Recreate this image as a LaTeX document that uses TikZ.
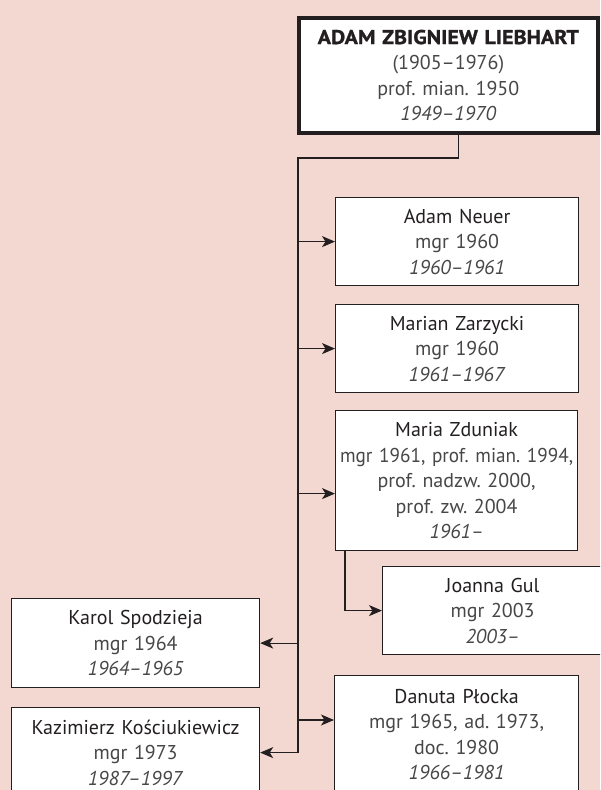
\documentclass[tikz,border=0pt]{standalone}
\usepackage{fontspec}
\setmainfont{PT Sans}
\usetikzlibrary{arrows.meta,positioning}
\definecolor{bgpink}{RGB}{242,216,208}
\definecolor{ink}{RGB}{35,31,32}
\definecolor{txt}{RGB}{72,70,70}
\frenchspacing

\begin{document}
\begin{tikzpicture}
    [x=1pt,y=-1pt,
    box/.style={draw=ink,fill=white,line width=1.2pt,anchor=north west,
      inner sep=0pt,align=center,text=txt,font=\fontsize{20}{25.5}\selectfont},
    head/.style={box,line width=3.6pt},
    link/.style={draw=ink,line width=1.1pt},
    arr/.style={link,-{Stealth[length=13pt,width=11pt,inset=3.5pt]}}]
    \useasboundingbox (0,0) rectangle (600,790);
    \fill[bgpink] (0,0) rectangle (600,790);
    \clip (0,0) rectangle (600,790);
    \node[head,text width=299pt,minimum height=115pt] (liebhart) at (297,16)
      {{\color{ink}\bfseries\addfontfeatures{FakeStretch=1.1,FakeBold=1.2}ADAM ZBIGNIEW LIEBHART}\\(1905–1976)\\prof. mian. 1950\\\textit{1949–1970}};
    \node[box,text width=243pt,minimum height=88pt] (neuer) at (335,197)
      {{\color{ink}Adam Neuer}\\mgr 1960\\\textit{1960–1961}};
    \node[box,text width=243pt,minimum height=88pt] (zarycki) at (335,304)
      {{\color{ink}Marian Zarzycki}\\mgr 1960\\\textit{1961–1967}};
    \node[box,text width=242pt,minimum height=140pt] (zduniak) at (335,410)
      {{\color{ink}Maria Zduniak}\\{\addfontfeatures{FakeStretch=0.96}mgr 1961, prof. mian. 1994,}\\prof. nadzw. 2000,\\prof. zw. 2004\\\textit{1961–}};
    \node[box,text width=220pt,minimum height=88pt] (gul) at (382,566)
      {{\color{ink}Joanna Gul}\\mgr 2003\\\textit{2003–}};
    \node[box,text width=248pt,minimum height=89pt] (spodzieja) at (11,598)
      {{\color{ink}Karol Spodzieja}\\mgr 1964\\\textit{1964–1965}};
    \node[box,text width=244pt,minimum height=118pt] (plocka) at (334,675)
      {{\color{ink}Danuta Płocka}\\mgr 1965, ad. 1973,\\doc. 1980\\\textit{1966–1981}};
    \node[box,text width=248pt,minimum height=90pt] (kosciukiewicz) at (11,707)
      {{\color{ink}Kazimierz Kościukiewicz}\\mgr 1973\\\textit{1987–1997}};
    \coordinate (trunk) at (298,158);
    \coordinate (zin) at ([yshift=-13pt]zduniak.west);
    \coordinate (pin) at ([yshift=-45pt]plocka.north west);
    \draw[arr] ([xshift=10pt]liebhart.south) |- (trunk) |- (kosciukiewicz.east);
    \foreach \n in {neuer.west,zarycki.west,zin,pin,spodzieja.east}
      \draw[arr] (trunk |- \n) -- (\n);
    \draw[arr] ([xshift=10pt]zduniak.south west) |- (gul.west);
\end{tikzpicture}
\end{document}
